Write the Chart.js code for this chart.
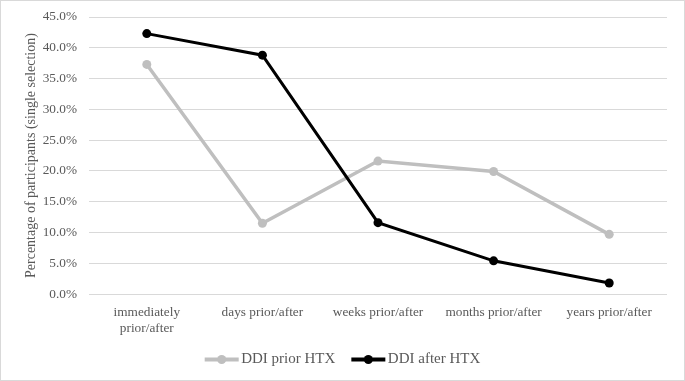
<!DOCTYPE html>
<html>
<head>
<meta charset="utf-8">
<script src="https://cdn.jsdelivr.net/npm/chart.js@4.4.0/dist/chart.umd.min.js"></script>
<style>
  html, body { margin: 0; padding: 0; background: #fff; }
  #marco { width: 685px; height: 381px; box-sizing: border-box; border: 1px solid #d9d9d9; }
  #marco canvas { display: block; }
</style>
</head>
<body>
<div id="marco"><canvas id="grafico" width="683" height="379"></canvas></div>
<script>
// ============ Datos ============================================
var categorias = [["immediately", "prior/after"], "days prior/after", "weeks prior/after", "months prior/after", "years prior/after"];
var ddiPrior = [37.3, 11.5, 21.6, 19.9, 9.7];
var ddiAfter = [42.3, 38.8, 11.6, 5.4, 1.8];
var etiquetasSeries = ["DDI prior HTX", "DDI after HTX"];
var ejeY = { min: 0, max: 45, paso: 5 };
var tituloY = "Percentage of participants (single selection)";

// ============ Estilos =========================
var colores = ["#bfbfbf", "#000000"];
var grisTexto = "#595959";
var familia = "'Liberation Serif', 'Times New Roman', serif";
var fuente = { family: familia, size: 13.3 };

var series = [ddiPrior, ddiAfter];
var grosores = [3.5, 3];

var datasets = series.map(function (s, i) {
  return {
    label: etiquetasSeries[i],
    data: s,
    borderColor: colores[i],
    backgroundColor: colores[i],
    borderWidth: grosores[i],
    pointRadius: 4.5,
    pointHoverRadius: 4.5,
    pointBorderWidth: 0,
    tension: 0,
    order: 2 - i
  };
});

// ============ Leyenda dibujada a mano (linea + punto + texto) =========================
var leyendaManual = {
  id: "leyendaManual",
  afterDraw: function (chart) {
    var ctx = chart.ctx;
    var y = 358.5;
    var largoLinea = 34, hueco = 2.5, separacion = 16;
    ctx.save();
    ctx.font = "15px " + familia;
    ctx.textBaseline = "middle";
    var items = chart.data.datasets.map(function (d) {
      return { d: d, ancho: ctx.measureText(d.label).width };
    });
    var total = items.reduce(function (a, it) { return a + largoLinea + hueco + it.ancho; }, 0) + separacion * (items.length - 1);
    var x = (chart.width - total) / 2;
    items.forEach(function (it) {
      ctx.strokeStyle = it.d.borderColor;
      ctx.lineWidth = 4;
      ctx.beginPath(); ctx.moveTo(x, y); ctx.lineTo(x + largoLinea, y); ctx.stroke();
      ctx.fillStyle = it.d.borderColor;
      ctx.beginPath(); ctx.arc(x + largoLinea / 2, y, 4.5, 0, Math.PI * 2); ctx.fill();
      ctx.fillStyle = grisTexto;
      ctx.fillText(it.d.label, x + largoLinea + hueco, y);
      x += largoLinea + hueco + it.ancho + separacion;
    });
    ctx.restore();
  }
};

new Chart(document.getElementById("grafico"), {
  type: "line",
  data: { labels: categorias, datasets: datasets },
  plugins: [leyendaManual],
  options: {
    responsive: false,
    animation: false,
    layout: { padding: { top: 16, right: 17, bottom: 34, left: 10 } },
    scales: {
      x: {
        offset: true,
        grid: { display: false, drawTicks: false },
        border: { display: false },
        ticks: { color: grisTexto, font: fuente, padding: 10, maxRotation: 0, autoSkip: false }
      },
      y: {
        min: ejeY.min,
        max: ejeY.max,
        grid: { color: "#d9d9d9", lineWidth: 1, drawTicks: false },
        border: { display: false },
        ticks: {
          stepSize: ejeY.paso,
          color: grisTexto,
          font: fuente,
          padding: 12,
          callback: function (v) { return v.toFixed(1) + "%"; }
        },
        title: { display: true, text: tituloY, color: grisTexto, font: { family: familia, size: 14 }, padding: { top: 12, bottom: 4 } },
        afterFit: function (scale) {
          // ancho fijo del eje y sin reservar espacio extra arriba/abajo
          scale.width = 78;
          scale.paddingTop = 0;
          scale.paddingBottom = 0;
        }
      }
    },
    plugins: {
      tooltip: { enabled: false },
      legend: { display: false }
    }
  }
});
</script>
</body>
</html>
